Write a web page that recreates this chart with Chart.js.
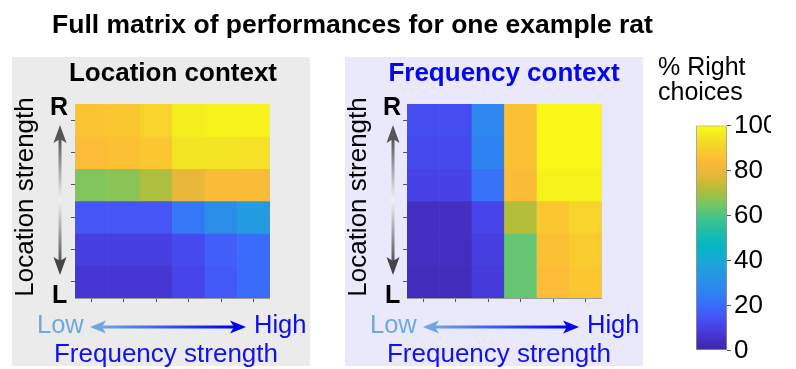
<!DOCTYPE html>
<html>
<head>
<meta charset="utf-8">
<script src="https://cdn.jsdelivr.net/npm/chart.js@4"></script>
<style>
  body { margin: 0; width: 796px; height: 369px; overflow: hidden; background: #fff;
         font-family: "Liberation Sans", Arial, sans-serif; position: relative; }
  .abs { position: absolute; white-space: nowrap; line-height: 1; }
  .c { text-align: center; }
  .panel { position: absolute; top: 57px; width: 298px; height: 309px; }
  .box { position: absolute; }
  .rot { transform: rotate(-90deg); transform-origin: 50% 50%; }
</style>
</head>
<body>
<div class="panel" style="left:12px;background:#ebebeb"></div>
<div class="panel" style="left:345px;background:#e9e9fb"></div>

<div class="box" style="left:71px;top:104px;width:199px;height:198px"><canvas id="locChart"></canvas></div>
<div class="box" style="left:403px;top:104px;width:199px;height:198px"><canvas id="freqChart"></canvas></div>
<div class="box" style="left:690px;top:107px;width:81px;height:262px;overflow:hidden">
  <div class="box" style="left:6px;top:0;width:91px;height:262px"><canvas id="cbChart"></canvas></div>
</div>

<svg class="box" style="left:0;top:0" width="796" height="369">
  <defs>
    <linearGradient id="vgrad" x1="0" y1="0" x2="0" y2="1">
      <stop offset="0" stop-color="#555"/>
      <stop offset="0.5" stop-color="#f4f4f4"/>
      <stop offset="1" stop-color="#555"/>
    </linearGradient>
    <linearGradient id="hgrad" x1="0" y1="0" x2="1" y2="0">
      <stop offset="0" stop-color="#72a6e2"/>
      <stop offset="1" stop-color="#0000f2"/>
    </linearGradient>
  </defs>
  <g id="arrows">
    <rect x="58.5" y="138" width="3" height="124" fill="url(#vgrad)"/>
    <polygon points="60,125 53.5,143 60,139 66.5,143" fill="#555"/>
    <polygon points="60,275 53.5,257 60,261 66.5,257" fill="#444"/>
    <rect x="102" y="325.5" width="132" height="3" fill="url(#hgrad)"/>
    <polygon points="90,327 106,320.5 102,327 106,333.5" fill="#72a6e2"/>
    <polygon points="246,327 230,320.5 234,327 230,333.5" fill="#0000f2"/>
  </g>
  <use href="#arrows" x="333" y="0"/>
</svg>

<div class="abs c" style="left:0;width:705px;top:11px;font-size:26.5px;font-weight:bold">Full matrix of performances for one example rat</div>

<div class="abs c" style="left:23px;width:300px;top:59px;font-size:26px;font-weight:bold">Location context</div>
<div class="abs c" style="left:354px;width:300px;top:59px;font-size:26px;font-weight:bold;color:#0505f0">Frequency context</div>

<div class="abs c rot" style="left:-86px;width:220px;top:184px;height:26px;font-size:26px">Location strength</div>
<div class="abs c rot" style="left:247px;width:220px;top:184px;height:26px;font-size:26px">Location strength</div>

<div class="abs" style="left:50px;top:94px;font-size:25px;font-weight:bold">R</div>
<div class="abs" style="left:52px;top:282px;font-size:25px;font-weight:bold">L</div>
<div class="abs" style="left:383px;top:94px;font-size:25px;font-weight:bold">R</div>
<div class="abs" style="left:385px;top:282px;font-size:25px;font-weight:bold">L</div>

<div class="abs" style="left:37px;top:312px;font-size:25.5px;color:#70a8e2">Low</div>
<div class="abs" style="left:254px;top:312px;font-size:25.5px;color:#0d0df2">High</div>
<div class="abs c" style="left:16px;width:300px;top:340px;font-size:26px;color:#1212f0">Frequency strength</div>
<div class="abs" style="left:370px;top:312px;font-size:25.5px;color:#70a8e2">Low</div>
<div class="abs" style="left:587px;top:312px;font-size:25.5px;color:#0d0df2">High</div>
<div class="abs c" style="left:349px;width:300px;top:340px;font-size:26px;color:#1212f0">Frequency strength</div>

<div class="abs" style="left:658px;top:54px;font-size:25px">% Right</div>
<div class="abs" style="left:658px;top:79px;font-size:25px">choices</div>

<script>
// frequency strength levels, Low -> High
const freqLevels = ['1', '2', '3', '4', '5', '6'];
// y tick positions (cell centres), L at bottom, R at top
const rowTicks = [0.5, 1.5, 2.5, 3.5, 4.5, 5.5];

// % right choices, rows from R (top) to L (bottom)
const locationContext = [
  [87, 88, 91, 97, 98, 98],
  [85, 86, 88, 95, 95, 94],
  [66, 67, 71, 79, 84, 84],
  [15, 15, 15, 23, 30, 35],
  [ 9,  9,  9, 12, 17, 20],
  [ 7,  7,  7, 11, 16, 20]
];
const frequencyContext = [
  [13, 13, 27, 86, 99, 99],
  [12, 12, 26, 86, 99, 99],
  [10, 10, 22, 84, 98, 98],
  [ 4,  4, 11, 72, 88, 91],
  [ 4,  4,  9, 63, 86, 89],
  [ 3,  3,  8, 63, 85, 88]
];

const colorbarRange = [0, 100];
const colorbarTicks = [0, 20, 40, 60, 80, 100];

// parula-like colormap
const parulaStops = [
  [0.00, '#3e26a8'], [0.05, '#4530c8'], [0.10, '#4741e6'], [0.15, '#4555f6'],
  [0.20, '#3b6bfb'], [0.25, '#3080f5'], [0.30, '#2a8ee9'], [0.35, '#229be1'],
  [0.40, '#1aa7d8'], [0.45, '#06b3c9'], [0.50, '#0fbab4'], [0.55, '#2bbf9f'],
  [0.60, '#4bc486'], [0.65, '#78c664'], [0.70, '#a4c041'], [0.75, '#cfba33'],
  [0.80, '#efb63b'], [0.85, '#fdbc37'], [0.90, '#f8cf2d'], [0.95, '#f4e524'],
  [1.00, '#f9fb15']
];

function hexRgb(h) {
  return [1, 3, 5].map(i => parseInt(h.substr(i, 2), 16));
}

function parula(t) {
  t = Math.min(1, Math.max(0, t));
  for (let i = 1; i < parulaStops.length; i++) {
    const [t1, c1] = parulaStops[i - 1];
    const [t2, c2] = parulaStops[i];
    if (t <= t2) {
      const f = (t - t1) / (t2 - t1);
      const a = hexRgb(c1), b = hexRgb(c2);
      const rgb = a.map((v, k) => Math.round(v + (b[k] - v) * f));
      return `rgb(${rgb.join(',')})`;
    }
  }
  return parulaStops[parulaStops.length - 1][1];
}

const tickGrid = { drawOnChartArea: false, tickLength: 4, color: '#555' };

function heatmap(id, matrix) {
  const nRows = matrix.length;
  const datasets = matrix.map((row, i) => {
    const r = nRows - 1 - i;
    return {
      data: row.map(() => [r, r + 1]),
      backgroundColor: row.map(v => parula(v / 100)),
      borderWidth: 0,
      barPercentage: 1,
      categoryPercentage: 1,
      grouped: false
    };
  });

  new Chart(document.getElementById(id), {
    type: 'bar',
    data: { labels: freqLevels, datasets },
    options: {
      responsive: true,
      maintainAspectRatio: false,
      animation: false,
      layout: { padding: 0 },
      plugins: { legend: { display: false }, tooltip: { enabled: false } },
      scales: {
        x: {
          z: 1,
          ticks: { display: false },
          grid: { ...tickGrid, offset: false },
          border: { color: '#999' },
          afterFit: s => { s.height = 4; }
        },
        y: {
          z: 1,
          min: 0,
          max: nRows,
          afterBuildTicks: s => { s.ticks = rowTicks.map(v => ({ value: v })); },
          ticks: { display: false },
          grid: tickGrid,
          border: { color: '#999' },
          afterFit: s => { s.width = 4; }
        }
      }
    }
  });
}

heatmap('locChart', locationContext);
heatmap('freqChart', frequencyContext);

new Chart(document.getElementById('cbChart'), {
  type: 'bar',
  data: {
    labels: [''],
    datasets: [{
      data: [colorbarRange],
      backgroundColor: ctx => {
        const area = ctx.chart.chartArea;
        if (!area) return parula(0.5);
        const g = ctx.chart.ctx.createLinearGradient(0, area.bottom, 0, area.top);
        parulaStops.forEach(([t, c]) => g.addColorStop(t, c));
        return g;
      },
      borderColor: '#999',
      borderWidth: 1,
      borderSkipped: false,
      barPercentage: 1,
      categoryPercentage: 1
    }]
  },
  options: {
    responsive: true,
    maintainAspectRatio: false,
    animation: false,
    layout: { padding: { top: 16, bottom: 16, left: 0, right: 0 } },
    plugins: { legend: { display: false }, tooltip: { enabled: false } },
    scales: {
      x: { display: false },
      y: {
        position: 'right',
        min: colorbarRange[0],
        max: colorbarRange[1],
        afterBuildTicks: s => { s.ticks = colorbarTicks.map(v => ({ value: v })); },
        ticks: { color: '#000', padding: 3, font: { size: 26, family: '"Liberation Sans", Arial, sans-serif' } },
        grid: tickGrid,
        border: { display: false },
        afterFit: s => { s.width = 60; }
      }
    }
  }
});
</script>
</body>
</html>
